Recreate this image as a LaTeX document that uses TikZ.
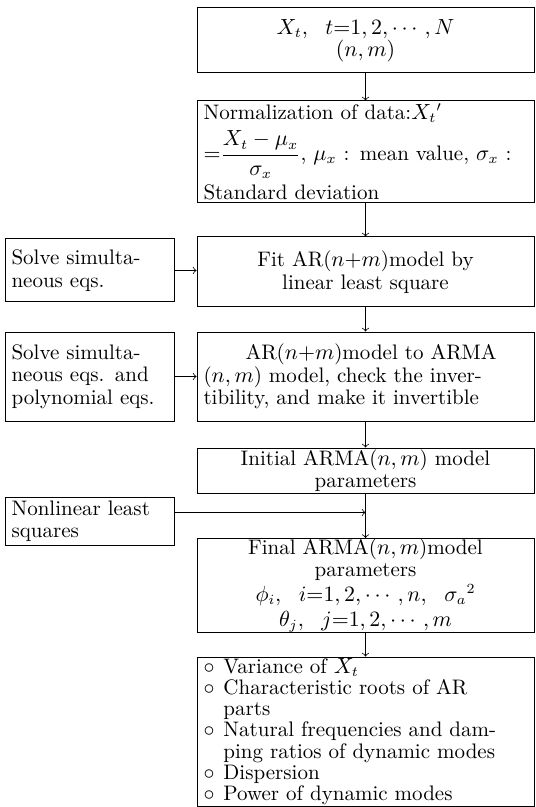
\documentclass[tikz,border=0pt]{standalone}
\usepackage{amsmath,amssymb}
\usepackage{tikz}

\newcommand{\ringitem}{\makebox[0.95em][l]{$\circ$}}
\newcommand{\ringgap}{\hspace*{0.95em}}

\begin{document}
\begin{tikzpicture}[x=0.5pt, y=-0.5pt,
    mainbox/.style={draw, line width=0.5pt, text width=162pt, inner xsep=3.25pt, inner ysep=0pt,
        font=\fontsize{10.5}{11.2}\selectfont},
    sidebox/.style={draw, line width=0.5pt, text width=78pt, inner xsep=3.25pt, inner ysep=0pt,
        align=left, font=\fontsize{10.5}{11.2}\selectfont},
    flow/.style={->, line width=0.4pt}]
        \useasboundingbox (0,0) rectangle (535,807);

        % Input data
        \node[mainbox, align=center, minimum height=32.5pt] (data) at (365.5,40.5)
            {$X_t,\ \ t{=}1,2,\cdots,N$\\$(n,m)$};

        % Normalization
        \node[mainbox, align=left, minimum height=51pt] (norm) at (365.5,152)
            {Normalization of data:$X_t{}'$\\[3pt]${=}\dfrac{X_t-\mu_x}{\sigma_x}$, $\mu_x$ : mean value, $\sigma_x$ :\\[2pt]Standard deviation};

        % AR fit
        \node[mainbox, align=center, minimum height=35pt] (fitar) at (365.5,272)
            {Fit AR($n{+}m$)model by\\linear least square};
        \node[sidebox, minimum height=31.5pt] (solveA) at (89.5,270.5)
            {Solve simulta-\\neous eqs.};

        % AR to ARMA
        \node[mainbox, align=left, minimum height=44.5pt] (toarma) at (365.5,376.5)
            {\hspace*{2em}AR($n{+}m$)model to ARMA\\($n,m$) model, check the inver-\\tibility, and make it invertible};
        \node[sidebox, minimum height=44.5pt] (solveB) at (89.5,376.5)
            {Solve simulta-\\neous eqs. and\\polynomial eqs.};

        % Initial parameters
        \node[mainbox, align=center, minimum height=22.5pt] (init) at (365.5,470.5)
            {Initial ARMA($n,m$) model\\parameters};
        \node[sidebox, minimum height=24pt] (nls) at (89.5,521)
            {Nonlinear least\\squares};

        % Final parameters
        \node[mainbox, align=center, minimum height=44.5pt] (final) at (365.5,585.5)
            {Final ARMA($n,m$)model\\parameters\\[1pt]$\phi_i,\ \ i{=}1,2,\cdots,n,\ \ \sigma_a{}^2$\\[1.5pt]$\theta_j,\ \ j{=}1,2,\cdots,m$};

        % Results
        \node[mainbox, align=left, minimum height=74.5pt, font=\fontsize{10.5}{10.6}\selectfont] (result) at (365.5,731.5)
            {\ringitem Variance of $X_t$\\\ringitem Characteristic roots of AR\\\ringgap parts\\\ringitem Natural frequencies and dam-\\\ringgap ping ratios of dynamic modes\\\ringitem Dispersion\\\ringitem Power of dynamic modes};

        % Arrows
        \draw[flow] (data) -- (norm);
        \draw[flow] (norm) -- (fitar);
        \draw[flow] (fitar) -- (toarma);
        \draw[flow] (toarma) -- (init);
        \draw[flow] (init) -- (final);
        \draw[flow] (final) -- (result);
        \draw[flow] (solveA.east) -- (solveA.east -| fitar.west);
        \draw[flow] (solveB) -- (toarma);
        \coordinate (nlsout) at ([yshift=-8pt]nls.north east);
        \draw[flow] (nlsout) -- (nlsout -| init.south);
    \end{tikzpicture}
\end{document}
